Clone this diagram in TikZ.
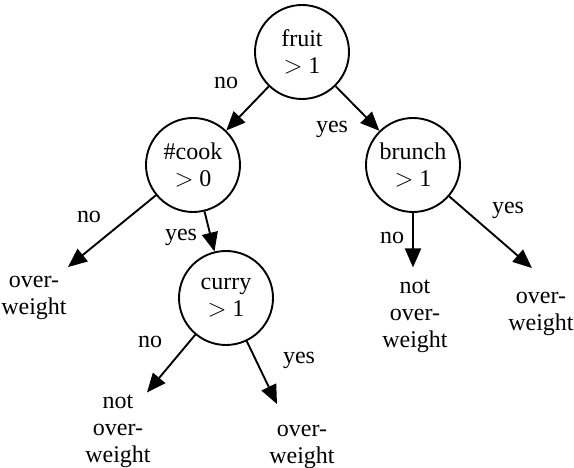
\documentclass[tikz,border=0pt]{standalone}
\usepackage{fontspec}
\setmainfont{Liberation Serif}
\usetikzlibrary{calc,arrows.meta}

\begin{document}
\begin{tikzpicture}[x=1pt,y=-1pt,
    font=\fontsize{24}{27}\selectfont,
    test/.style={draw,circle,line width=1.9pt,minimum size=94pt,inner sep=0pt,align=center},
    leaf/.style={align=center,inner sep=2pt},
    lbl/.style={inner sep=0pt},
    arr/.style={line width=1.9pt,-{Triangle[length=19pt,width=16pt]}}]
    \useasboundingbox (0,0) rectangle (574,468);

    \node[test] (fruit)  at (302,52)  {fruit\\$>$ 1};
    \node[test] (cook)   at (193,165) {\#cook\\$>$ 0};
    \node[test] (brunch) at (413,165) {brunch\\$>$ 1};
    \node[test] (curry)  at (226,298) {curry\\$>$ 1};

    \node[leaf] (l1) at (34,298)  {over-\\weight};
    \node[leaf] (l2) at (118,431) {not\\over-\\weight};
    \node[leaf] (l3) at (302,447) {over-\\weight};
    \node[leaf] (l4) at (415,316) {not\\over-\\weight};
    \node[leaf] (l5) at (541,314) {over-\\weight};

    \draw[arr] (fruit) -- (cook);
    \draw[arr] (fruit) -- (brunch);
    \draw[arr] (cook) -- ($(l1.north)+(34,-7)$);
    \draw[arr] (cook) -- (curry);
    \draw[arr] (curry) -- ($(l2.north)+(29,0)$);
    \draw[arr] (curry) -- ($(l3.north)+(-25,-19)$);
    \draw[arr] (brunch) -- ($(l4.north)+(-2,-10)$);
    \draw[arr] (brunch) -- ($(l5.north)+(-9,-22)$);

    \node[lbl] (n1) at (226,83)  {no};
    \node[lbl] (y1) at (332,129) {yes};
    \node[lbl] (n2) at (89,217)  {no};
    \node[lbl] (y2) at (181,237) {yes};
    \node[lbl] (n3) at (150,342) {no};
    \node[lbl] (y3) at (299,360) {yes};
    \node[lbl] (n4) at (392,238) {no};
    \node[lbl] (y4) at (508,210) {yes};
\end{tikzpicture}
\end{document}
